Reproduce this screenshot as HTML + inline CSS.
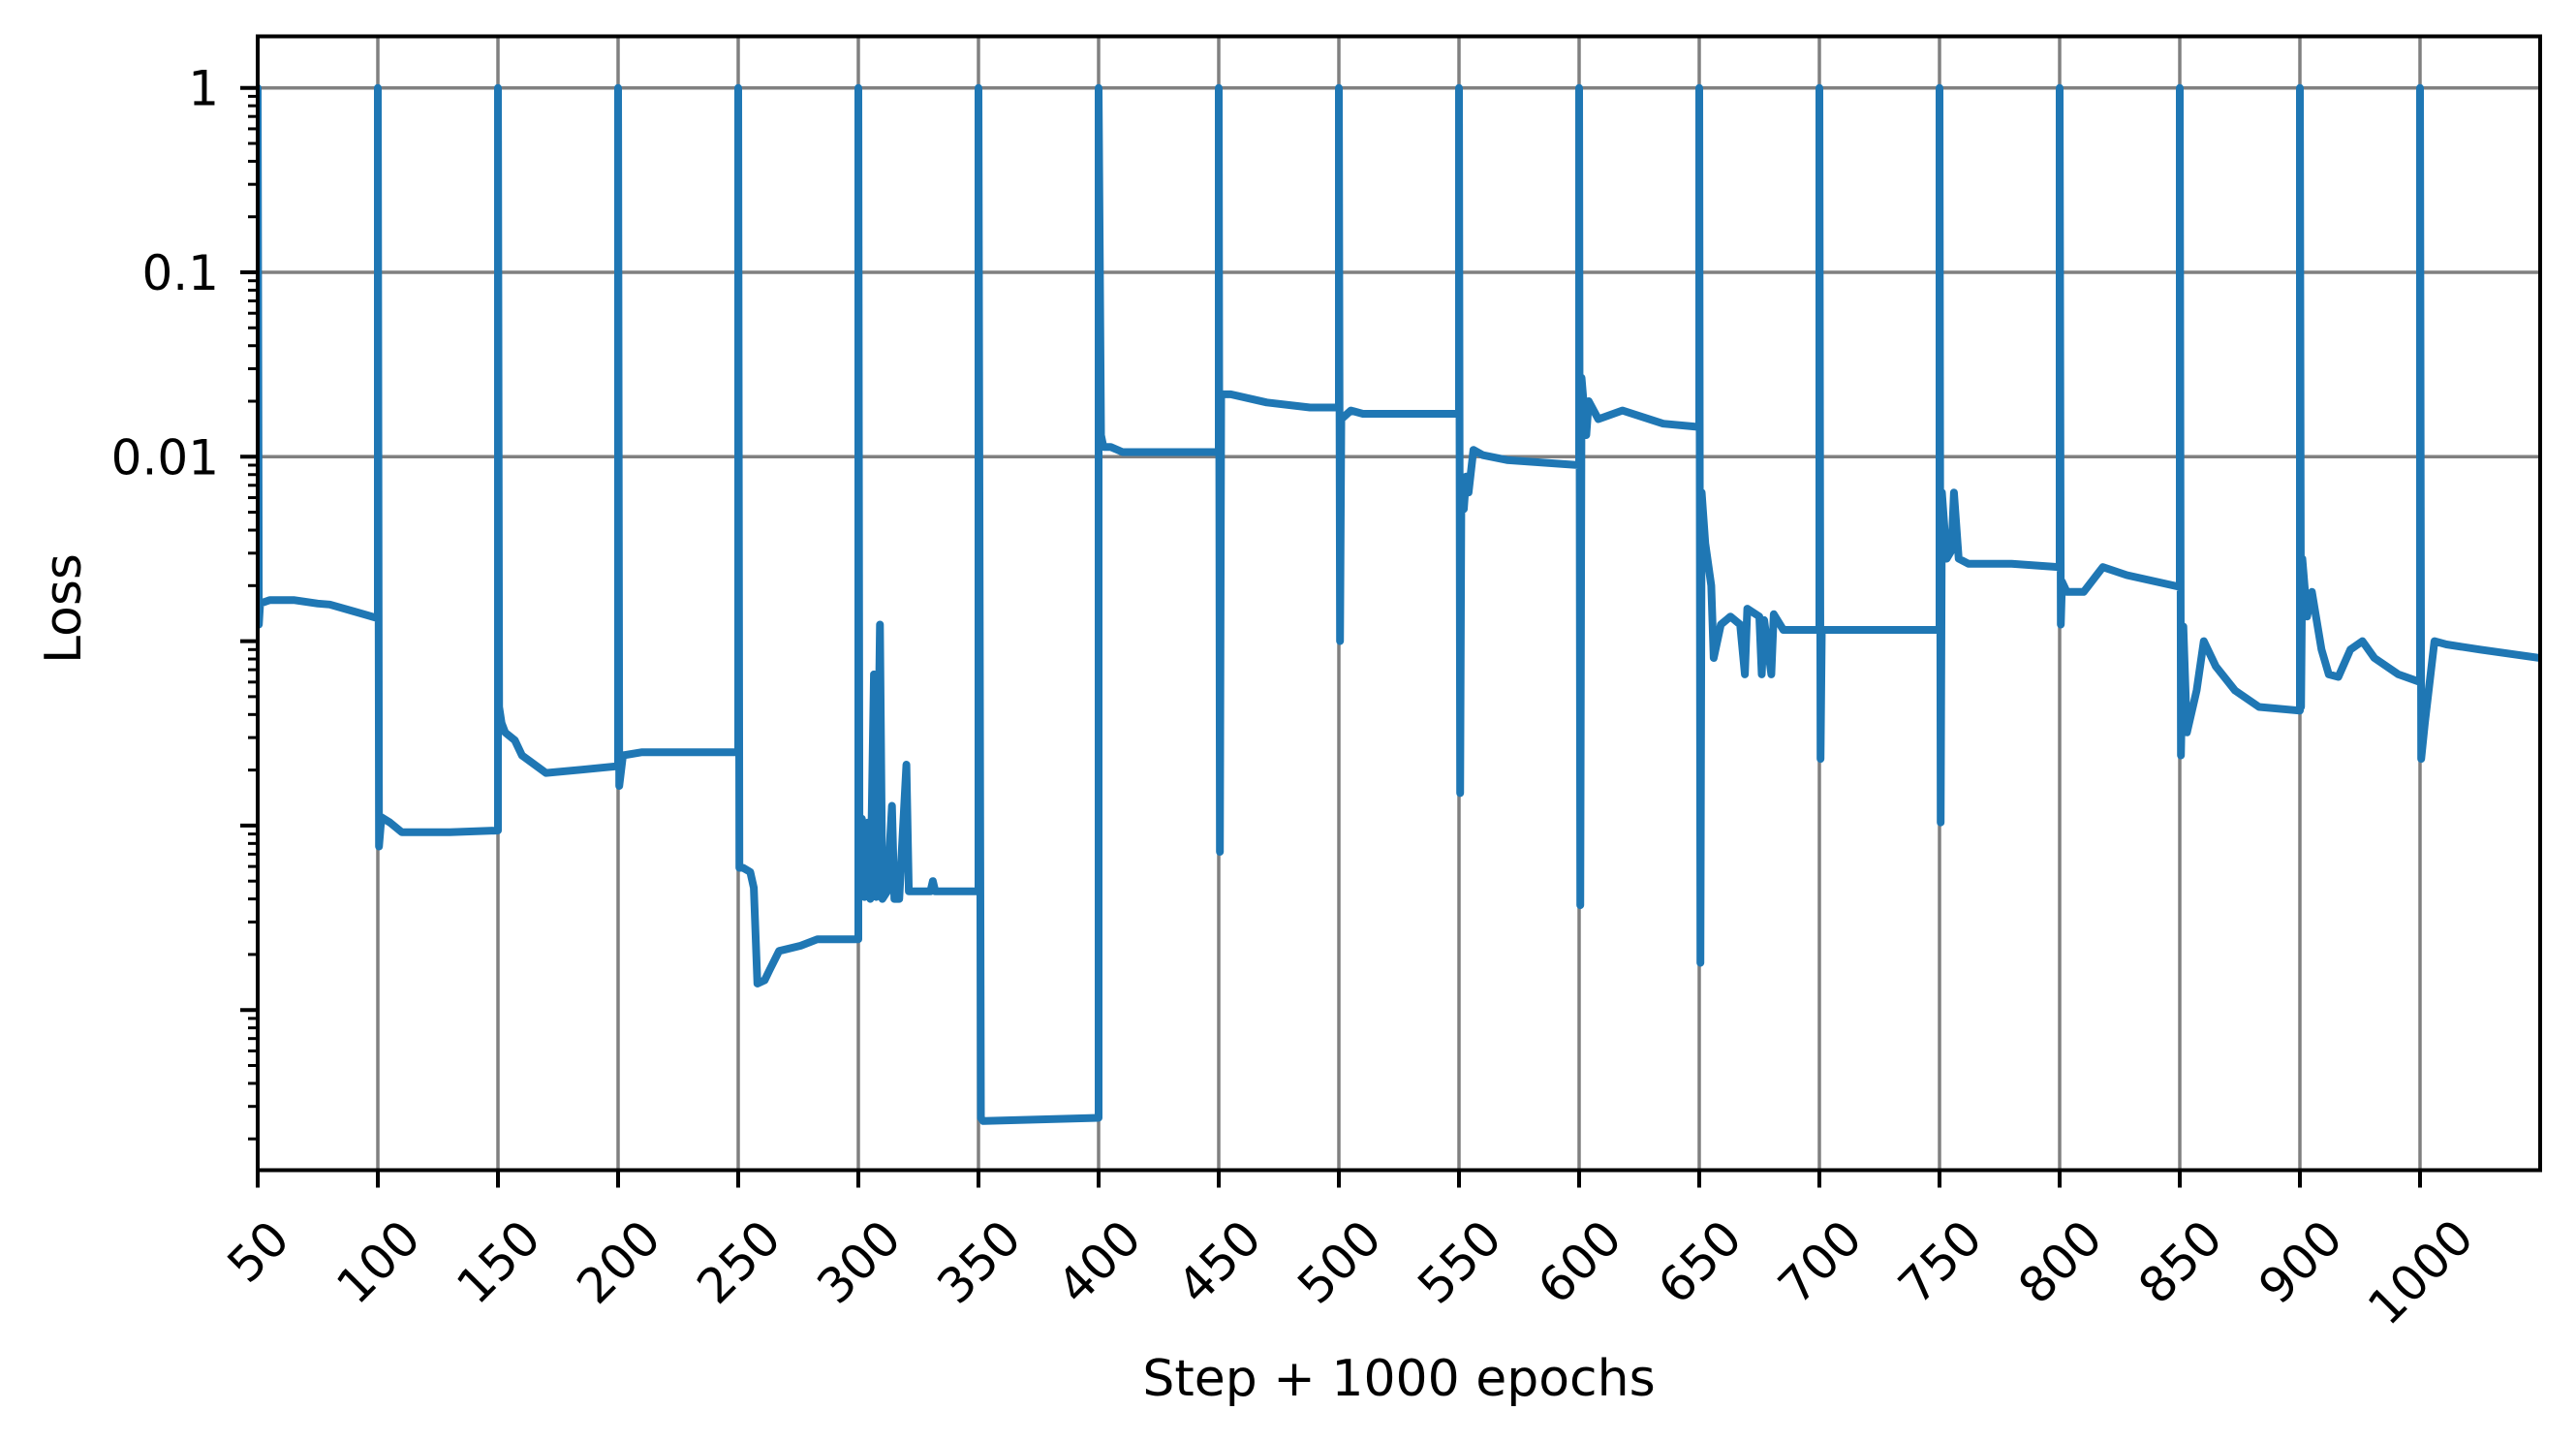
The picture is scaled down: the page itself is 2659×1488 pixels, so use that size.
<!DOCTYPE html>
<html><head><meta charset="utf-8"><style>
html,body{margin:0;padding:0;background:#fff;}
svg{display:block;font-family:"DejaVu Sans","Liberation Sans",sans-serif;}
</style></head><body>
<svg id="chart" width="2659" height="1488" viewBox="0 0 2659 1488" xmlns="http://www.w3.org/2000/svg">
<rect x="0" y="0" width="2659" height="1488" fill="#fff"/>
<defs><clipPath id="plotclip"><rect x="266" y="37" width="2356" height="1171"/></clipPath></defs>
<g id="grid"></g>
<g id="series" clip-path="url(#plotclip)"></g>
<g id="axes"></g>
<text x="1444" y="1440" font-size="52" text-anchor="middle">Step + 1000 epochs</text>
<text transform="translate(83,628) rotate(-90)" font-size="52" text-anchor="middle">Loss</text>
</svg>
<script>
const xTickValues = [50,100,150,200,250,300,350,400,450,500,550,600,650,700,750,800,850,900,950];
const xTickLabels = ["50","100","150","200","250","300","350","400","450","500","550","600","650","700","750","800","850","900","1000"];
const yTickValues = [1,0.1,0.01,0.001,0.0001,0.00001];
const yTickLabels = ["1","0.1","0.01","","",""];
const steps = [
50,50,50.5,51,55,65,75,80,90,100,
100,100.5,101.5,105,110,130,150,
150,150.5,151.5,153,157,160,170,185,200,
200,200.5,202,210,250,
250,250.5,252,255,256.5,258,261,263,267,276,283,300,
300,300.5,301.5,302.5,304,305,306.5,307.5,309,310,312,314,315,317,320,321,330,331,332,350,
350,351,352,400,
400,401,402,405,410,450,
450,450.5,451,455,470,488,500,
500,500.5,501,505,510,550,
550,550.5,551,552,553,554,556,560,570,600,
600,600.5,601,603,604,608,618,635,650,
650,650.5,651,652.5,655,656,659,663,667,669,670,675,676,677,680,681,685,700,
700,700.5,701,750,
750,750.5,751,753,755,756,758,762,780,800,
800,800.5,801,803,810,818,828,850,
850,850.5,851.5,853,857,860,865,873,883,900,
900,900.5,901,903,905,909,912,916,921,926,931,941,950,
950,950.5,952,956,961,975,1000];
const losses = [
1,1,0.00123,0.00160,0.00167,0.00167,0.00160,0.00158,0.00145,0.00133,
1,0.000077,0.000111,0.000104,0.000092,0.000092,0.000094,
1,0.00044,0.00036,0.00032,0.00029,0.00024,0.000193,0.000201,0.000210,
1,0.000164,0.00024,0.00025,0.00025,
1,0.000059,0.000059,0.000056,0.000046,0.0000139,0.0000145,0.0000164,0.0000209,0.0000223,0.0000242,0.0000242,
1,0.000044,0.000109,0.000041,0.000104,0.000040,0.00066,0.000041,0.00123,0.000040,0.000044,0.000128,0.000040,0.000040,0.000214,0.000044,0.000044,0.00005,0.000044,0.000044,
1,0.0000026,0.0000025,0.0000026,
1,0.0131,0.0113,0.0113,0.0106,0.0106,
1,0.000072,0.0218,0.0218,0.0197,0.0185,0.0185,
1,0.0010,0.0160,0.0178,0.0171,0.0171,
1,0.00015,0.0078,0.0052,0.0078,0.0064,0.0109,0.0102,0.0096,0.0090,
1,0.000037,0.0268,0.0131,0.0200,0.0160,0.0178,0.0151,0.0145,
1,0.000018,0.0064,0.0034,0.0020,0.00081,0.00123,0.00136,0.00123,0.00066,0.0015,0.00136,0.00066,0.0013,0.00066,0.0014,0.00115,0.00115,
1,0.00023,0.00115,0.00115,
1,0.000104,0.0064,0.0028,0.0031,0.0064,0.0028,0.00263,0.00263,0.00252,
1,0.00123,0.0021,0.00185,0.00185,0.00252,0.00228,0.00197,
1,0.00024,0.0012,0.00032,0.00054,0.00100,0.00073,0.00054,0.00044,0.00042,
1,0.00044,0.0028,0.00136,0.00185,0.00090,0.00066,0.00064,0.00090,0.00100,0.00081,0.00066,0.00060,
1,0.00023,0.00036,0.0010,0.00096,0.00090,0.00081];

const NS='http://www.w3.org/2000/svg';
const L=266, R=2622, T=37.5, B=1207.5;
const X0=50, X1=1000;
const Y1DEC=90.7, DEC=190.3;
function xs(v){return L+(v-X0)/(X1-X0)*(R-L);}
function ys(v){return Y1DEC-Math.log10(v)*DEC;}
function mk(tag,attrs,parent){const e=document.createElementNS(NS,tag);for(const k in attrs)e.setAttribute(k,attrs[k]);parent.appendChild(e);return e;}
const grid=document.getElementById('grid'), axes=document.getElementById('axes'), series=document.getElementById('series');

xTickValues.forEach((v,i)=>{
  const x=xs(v);
  const g=mk('line',{x1:x,x2:x,y1:T,y2:B,stroke:'#808080','stroke-width':3.5},grid);
  
  
  const t=mk('line',{x1:x,x2:x,y1:B,y2:B+18,stroke:'#000','stroke-width':4},axes);
  
  
  const n=xTickLabels[i].length, f=50;
  const box=(n*0.6*f+0.73*f)*0.707;
  const cy=1257+box/2;
  const lbl=mk('text',{transform:`translate(${x},${cy}) rotate(-45)`,'font-size':f,'text-anchor':'middle',dy:'0.36em'},axes);
  lbl.textContent=xTickLabels[i];
  
  
});
yTickValues.forEach((v,i)=>{
  const y=ys(v);
  if(yTickLabels[i]!==''){
    const g=mk('line',{x1:L,x2:R,y1:y,y2:y,stroke:'#808080','stroke-width':3.5},grid);
    
    
  }
  const t=mk('line',{x1:L-18,x2:L,y1:y,y2:y,stroke:'#000','stroke-width':4},axes);
  
  
  if(yTickLabels[i]!==''){
    const lbl=mk('text',{x:226,y:y,'font-size':50,'text-anchor':'end',dy:'0.36em'},axes);
    lbl.textContent=yTickLabels[i];
    
    
  }
});
for(let d=0;d>=-6;d--){for(let k=2;k<=9;k++){const v=k*Math.pow(10,d-1)*10;const y=ys(v);if(y<T||y>B)continue;
  const t=mk('line',{x1:L-10,x2:L,y1:y,y2:y,stroke:'#000','stroke-width':3},axes);
  
  }}
let d='';
steps.forEach((s,i)=>{d+=(i?'L':'M')+xs(s).toFixed(1)+' '+ys(losses[i]).toFixed(1);});
const p=mk('path',{d:d,fill:'none',stroke:'#1f77b4','stroke-width':8,'stroke-linejoin':'round','stroke-linecap':'round'},series);


const sp=mk('rect',{x:L,y:T,width:R-L,height:B-T,fill:'none',stroke:'#000','stroke-width':4},axes);


</script>
</body></html>
